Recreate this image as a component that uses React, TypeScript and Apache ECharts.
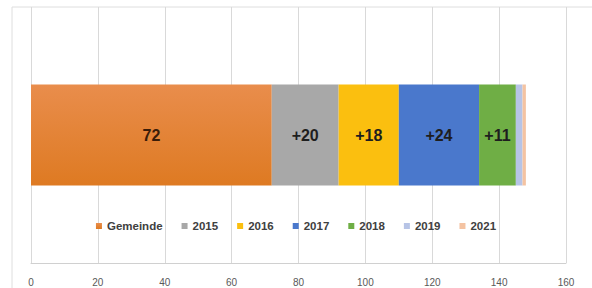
import React, { useEffect, useRef } from "react";
import * as echarts from "echarts";

const categories = ["Gemeinde"];
const seriesNames = ["Gemeinde", "2015", "2016", "2017", "2018", "2019", "2021"];
const seriesValues = [72, 20, 18, 24, 11, 2, 1];
const seriesColors = ["#e5822f", "#a8a8a8", "#fbbf0f", "#4a78cc", "#6fae45", "#b7c4e6", "#f4c3a2"];
const showLabel = [true, true, true, true, true, false, false];
const xTicks = { min: 0, max: 160, interval: 20 };

export default function App() {
  const ref = useRef<HTMLDivElement>(null);
  useEffect(() => {
    if (!ref.current) return;
    const chart = echarts.init(ref.current, null, { renderer: "svg" });
    const series = seriesNames.map((name, i) => ({
      name,
      type: "bar" as const,
      stack: "total",
      barWidth: 101,
      data: [seriesValues[i]],
      itemStyle: {
        color:
          i === 0
            ? new echarts.graphic.LinearGradient(0, 0, 0, 1, [
                { offset: 0, color: "#e98d4c" },
                { offset: 1, color: "#de7a22" },
              ])
            : seriesColors[i],
      },
      label: {
        show: showLabel[i],
        position: "inside" as const,
        formatter: (p: any) => (i === 0 ? String(p.value) : "+" + p.value),
        fontSize: 16,
        fontWeight: "bold" as const,
        fontFamily: "Liberation Sans",
        color: i === 0 ? "#3a1c08" : "#1e1e1e",
      },
    }));
    chart.setOption({
      animation: false,
      backgroundColor: "#ffffff",
      color: seriesColors,
      graphic: [
        {
          type: "rect",
          shape: { x: 12, y: 7, width: 620, height: 320 },
          style: { fill: "none", stroke: "#dedede", lineWidth: 1 },
          silent: true,
          z: -1,
        },
      ],
      grid: { left: 31, right: 26, top: 7, bottom: 25 },
      legend: {
        data: seriesNames,
        top: 215,
        left: "center",
        itemWidth: 6,
        itemHeight: 6,
        itemGap: 19,
        icon: "rect",
        textStyle: {
          fontSize: 11.5,
          fontWeight: "bold",
          color: "#404040",
          fontFamily: "Liberation Sans",
        },
      },
      xAxis: {
        type: "value",
        min: xTicks.min,
        max: xTicks.max,
        interval: xTicks.interval,
        axisLine: { show: true, lineStyle: { color: "#d0d0d0" } },
        axisTick: { show: false },
        splitLine: { show: true, lineStyle: { color: "#d9d9d9" } },
        axisLabel: {
          fontSize: 10,
          color: "#595959",
          margin: 14,
          fontFamily: "Liberation Sans",
        },
      },
      yAxis: {
        type: "category",
        data: categories,
        axisLine: { show: false },
        axisTick: { show: false },
        axisLabel: { show: false },
      },
      series,
    });
    return () => chart.dispose();
  }, []);
  return <div ref={ref} style={{ width: 592, height: 288, position: "absolute", left: 0, top: 0 }} />;
}
